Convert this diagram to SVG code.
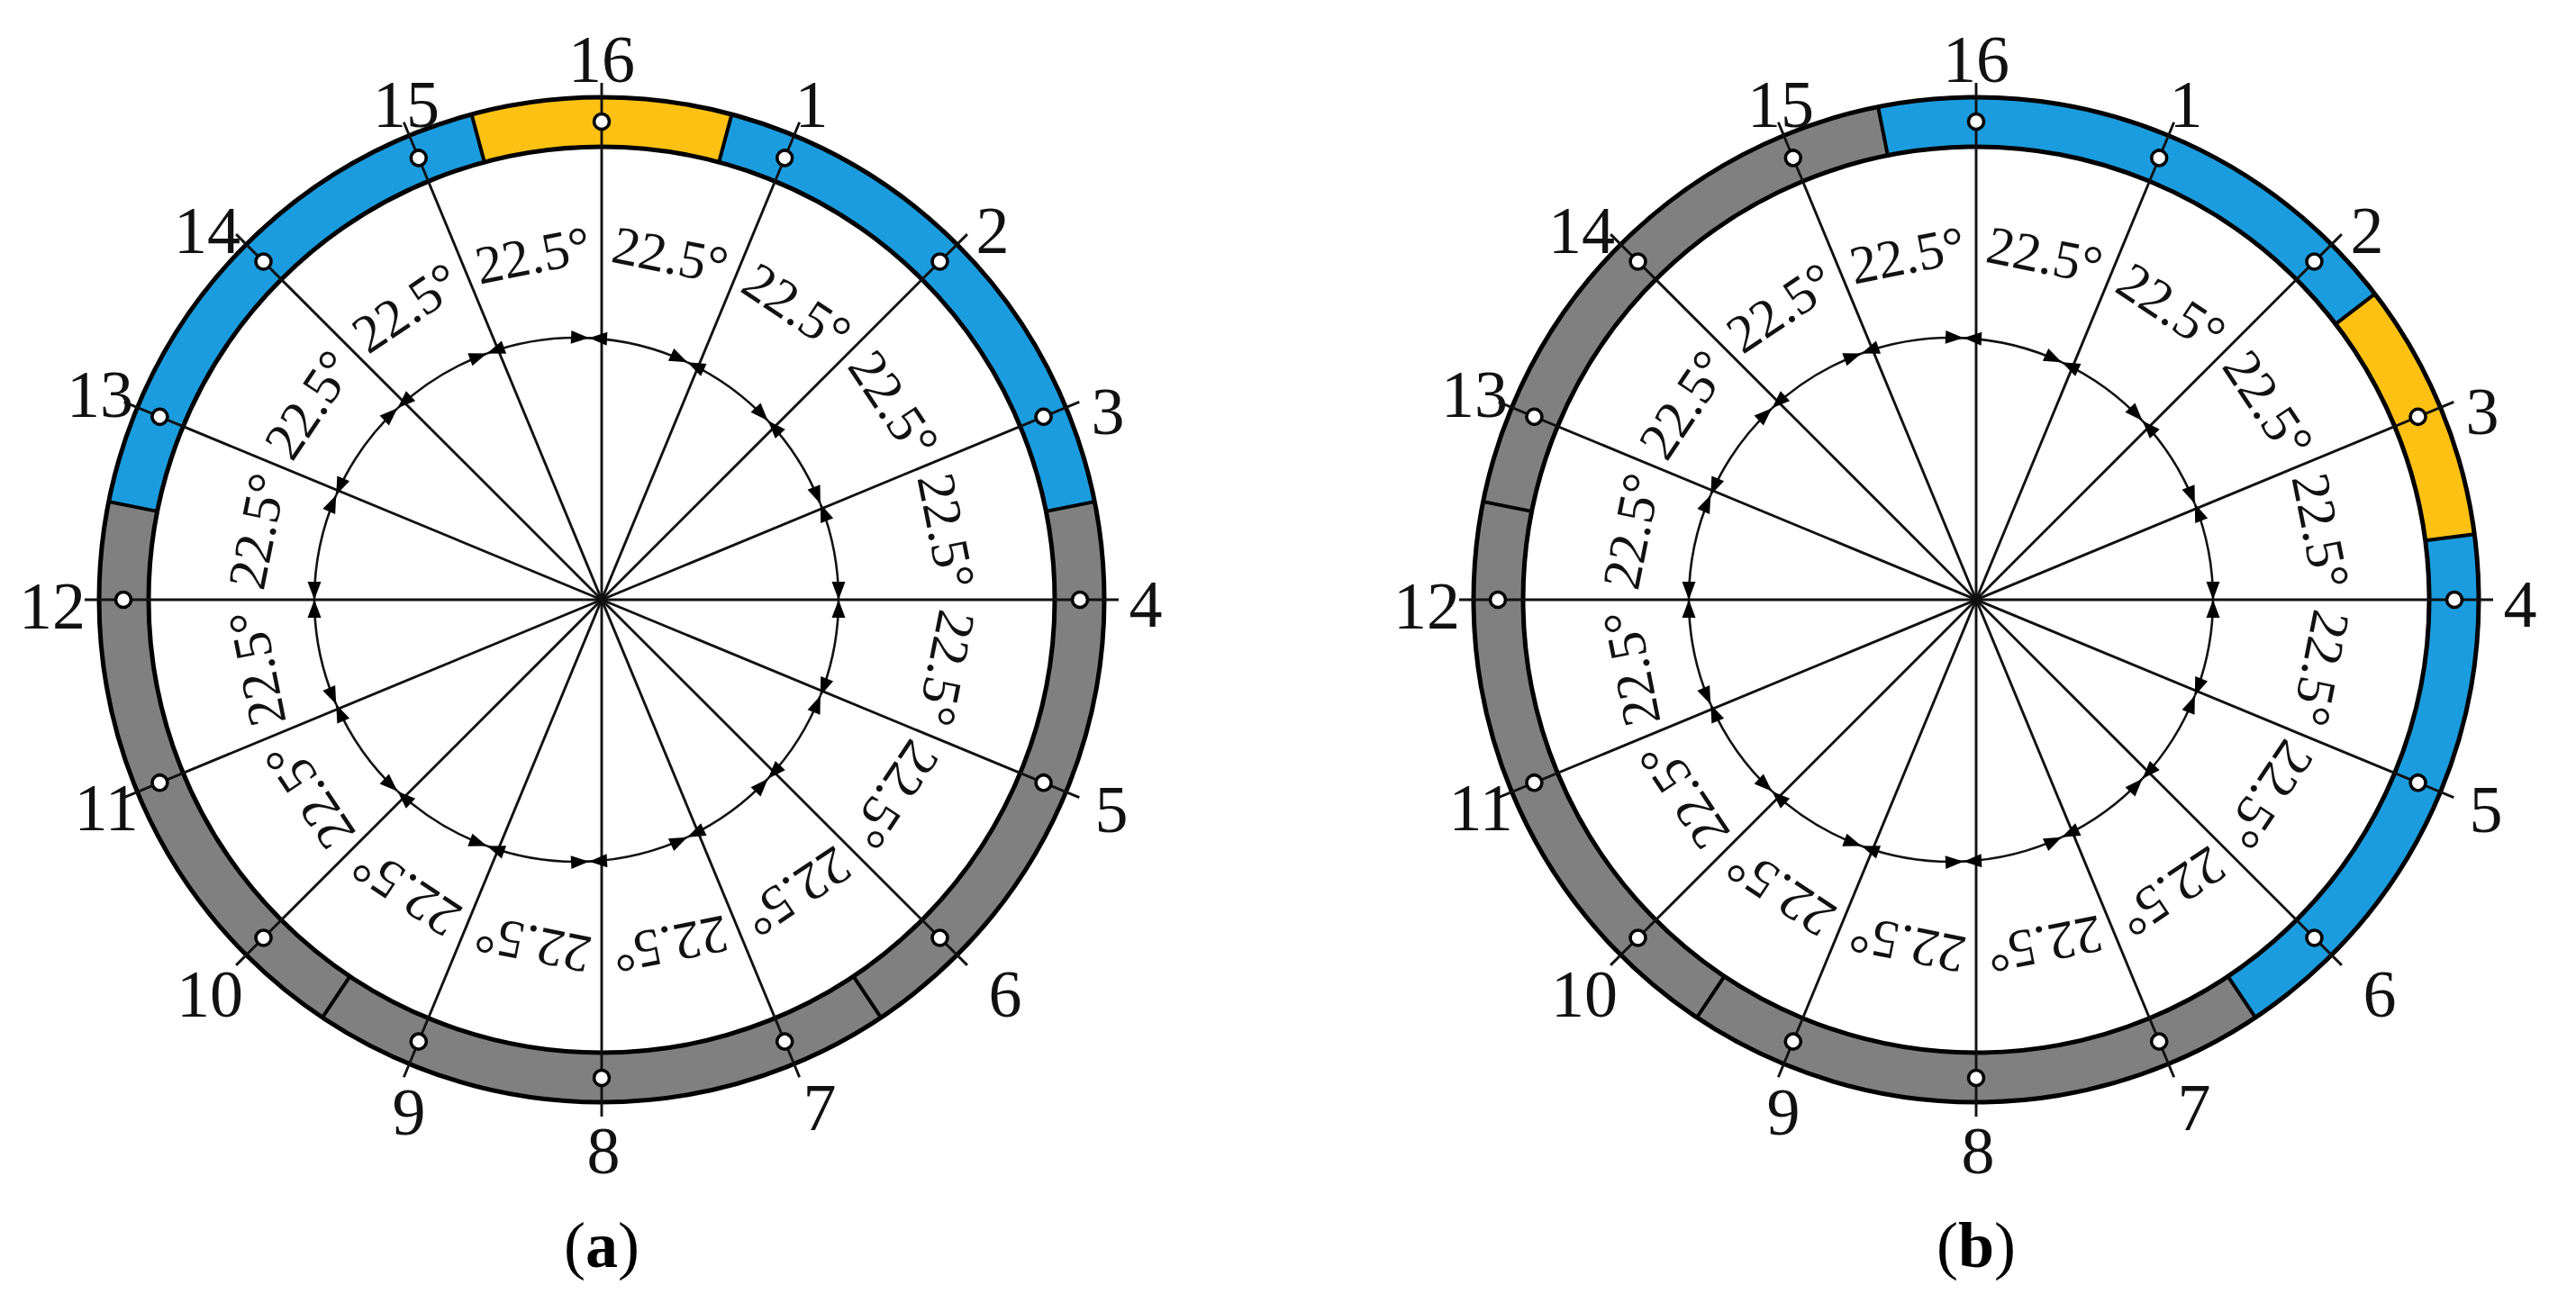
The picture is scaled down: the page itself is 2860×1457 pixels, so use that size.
<svg xmlns="http://www.w3.org/2000/svg" xmlns:xlink="http://www.w3.org/1999/xlink" width="2860" height="1457" viewBox="0 0 2860 1457">
<style>
.bg{fill:#fff}
.gray{fill:none;stroke:#808080;stroke-width:55}
.blue{fill:none;stroke:#1B9CDE;stroke-width:55}
.yellow{fill:none;stroke:#FDC113;stroke-width:55}
.edge{fill:none;stroke:#000;stroke-width:5}
.sep{stroke:#000;stroke-width:4}
.rad{stroke:#111;stroke-width:2.9}
.hole{fill:#fff;stroke:#000;stroke-width:3.6}
.dim{fill:none;stroke:#111;stroke-width:2.6;marker-start:url(#arr);marker-end:url(#arr)}
.num{font-family:"Liberation Serif","Times New Roman",serif;font-size:74px;text-anchor:middle;fill:#111}
.ang{font-family:"Liberation Serif","Times New Roman",serif;font-size:60px;text-anchor:middle;fill:#111}
.cap{font-family:"Liberation Serif","Times New Roman",serif;font-size:72px;text-anchor:middle;fill:#000}
</style>
<defs>
<marker id="arr" viewBox="-22 -9 23 18" refX="0" refY="0" markerWidth="23" markerHeight="18" markerUnits="userSpaceOnUse" orient="auto-start-reverse">
<path d="M0,0 L-20,-7.5 L-20,7.5 Z" fill="#000"/>
</marker>
<g id="ringShape">
<circle class="gray" cx="0" cy="0" r="530.5"/>
<path class="blue" d="M-520.31,-103.49 A530.5,530.5 0 0 1 520.31,-103.49"/>
<path class="yellow" d="M-137.30,-512.42 A530.5,530.5 0 0 1 137.30,-512.42"/>
<circle class="edge" cx="0" cy="0" r="558"/>
<circle class="edge" cx="0" cy="0" r="503"/>
<line class="sep" x1="0" y1="-503" x2="0" y2="-558" transform="rotate(-78.75)"/>
<line class="sep" x1="0" y1="-503" x2="0" y2="-558" transform="rotate(78.75)"/>
<line class="sep" x1="0" y1="-503" x2="0" y2="-558" transform="rotate(-15)"/>
<line class="sep" x1="0" y1="-503" x2="0" y2="-558" transform="rotate(15)"/>
<line class="sep" x1="0" y1="-503" x2="0" y2="-558" transform="rotate(146.25)"/>
<line class="sep" x1="0" y1="-503" x2="0" y2="-558" transform="rotate(213.75)"/>
</g>
<g id="radials">
<line class="rad" x1="0" y1="-574" x2="0" y2="574"/>
<line class="rad" x1="0" y1="-574" x2="0" y2="574" transform="rotate(22.5)"/>
<line class="rad" x1="0" y1="-574" x2="0" y2="574" transform="rotate(45)"/>
<line class="rad" x1="0" y1="-574" x2="0" y2="574" transform="rotate(67.5)"/>
<line class="rad" x1="0" y1="-574" x2="0" y2="574" transform="rotate(90)"/>
<line class="rad" x1="0" y1="-574" x2="0" y2="574" transform="rotate(112.5)"/>
<line class="rad" x1="0" y1="-574" x2="0" y2="574" transform="rotate(135)"/>
<line class="rad" x1="0" y1="-574" x2="0" y2="574" transform="rotate(157.5)"/>
</g>
<g id="holes">
<circle class="hole" cx="0" cy="-531" r="8.5"/>
<circle class="hole" cx="0" cy="-531" r="8.5" transform="rotate(22.5)"/>
<circle class="hole" cx="0" cy="-531" r="8.5" transform="rotate(45)"/>
<circle class="hole" cx="0" cy="-531" r="8.5" transform="rotate(67.5)"/>
<circle class="hole" cx="0" cy="-531" r="8.5" transform="rotate(90)"/>
<circle class="hole" cx="0" cy="-531" r="8.5" transform="rotate(112.5)"/>
<circle class="hole" cx="0" cy="-531" r="8.5" transform="rotate(135)"/>
<circle class="hole" cx="0" cy="-531" r="8.5" transform="rotate(157.5)"/>
<circle class="hole" cx="0" cy="-531" r="8.5" transform="rotate(180)"/>
<circle class="hole" cx="0" cy="-531" r="8.5" transform="rotate(202.5)"/>
<circle class="hole" cx="0" cy="-531" r="8.5" transform="rotate(225)"/>
<circle class="hole" cx="0" cy="-531" r="8.5" transform="rotate(247.5)"/>
<circle class="hole" cx="0" cy="-531" r="8.5" transform="rotate(270)"/>
<circle class="hole" cx="0" cy="-531" r="8.5" transform="rotate(292.5)"/>
<circle class="hole" cx="0" cy="-531" r="8.5" transform="rotate(315)"/>
<circle class="hole" cx="0" cy="-531" r="8.5" transform="rotate(337.5)"/>
</g>
<g id="dims">
<path class="dim" d="M0,-290.66 A291,291 0 0 1 109.20,-263.63"/>
<path class="dim" d="M109.20,-263.63 A291,291 0 0 1 198.65,-198.65"/>
<path class="dim" d="M198.65,-198.65 A291,291 0 0 1 256.86,-106.39"/>
<path class="dim" d="M256.86,-106.39 A291,291 0 0 1 277,0"/>
<path class="dim" d="M277,0 A291,291 0 0 1 256.86,106.39"/>
<path class="dim" d="M256.86,106.39 A291,291 0 0 1 198.65,198.65"/>
<path class="dim" d="M198.65,198.65 A291,291 0 0 1 109.20,263.63"/>
<path class="dim" d="M109.20,263.63 A291,291 0 0 1 0,290.66"/>
<path class="dim" d="M0,290.66 A291,291 0 0 1 -113.30,273.53"/>
<path class="dim" d="M-113.30,273.53 A291,291 0 0 1 -212.65,212.65"/>
<path class="dim" d="M-212.65,212.65 A291,291 0 0 1 -280.75,116.29"/>
<path class="dim" d="M-280.75,116.29 A291,291 0 0 1 -305,0"/>
<path class="dim" d="M-305,0 A291,291 0 0 1 -280.75,-116.29"/>
<path class="dim" d="M-280.75,-116.29 A291,291 0 0 1 -212.65,-212.65"/>
<path class="dim" d="M-212.65,-212.65 A291,291 0 0 1 -113.30,-273.53"/>
<path class="dim" d="M-113.30,-273.53 A291,291 0 0 1 0,-290.66"/>
</g>
<g id="angles">
<text class="ang" x="0" y="-370" transform="rotate(11.25)">22.5°</text>
<text class="ang" x="0" y="-370" transform="rotate(33.75)">22.5°</text>
<text class="ang" x="0" y="-370" transform="rotate(56.25)">22.5°</text>
<text class="ang" x="0" y="-370" transform="rotate(78.75)">22.5°</text>
<text class="ang" x="0" y="-370" transform="rotate(101.25)">22.5°</text>
<text class="ang" x="0" y="-370" transform="rotate(123.75)">22.5°</text>
<text class="ang" x="0" y="-370" transform="rotate(146.25)">22.5°</text>
<text class="ang" x="0" y="-370" transform="rotate(168.75)">22.5°</text>
<text class="ang" x="0" y="-370" transform="rotate(191.25)">22.5°</text>
<text class="ang" x="0" y="-370" transform="rotate(213.75)">22.5°</text>
<text class="ang" x="0" y="-370" transform="rotate(236.25)">22.5°</text>
<text class="ang" x="0" y="-370" transform="rotate(258.75)">22.5°</text>
<text class="ang" x="0" y="-370" transform="rotate(281.25)">22.5°</text>
<text class="ang" x="0" y="-370" transform="rotate(303.75)">22.5°</text>
<text class="ang" x="0" y="-370" transform="rotate(326.25)">22.5°</text>
<text class="ang" x="0" y="-370" transform="rotate(348.75)">22.5°</text>
</g>
<g id="numbers">
<text class="num" x="0" y="-575">16</text>
<text class="num" x="233" y="-525">1</text>
<text class="num" x="434" y="-385">2</text>
<text class="num" x="562" y="-184">3</text>
<text class="num" x="604" y="30">4</text>
<text class="num" x="566" y="258">5</text>
<text class="num" x="448" y="463">6</text>
<text class="num" x="242" y="589">7</text>
<text class="num" x="2" y="637">8</text>
<text class="num" x="-214" y="594">9</text>
<text class="num" x="-435" y="463">10</text>
<text class="num" x="-550" y="256">11</text>
<text class="num" x="-610" y="32">12</text>
<text class="num" x="-557" y="-203">13</text>
<text class="num" x="-438" y="-385">14</text>
<text class="num" x="-217" y="-525">15</text>
</g>
</defs>
<rect class="bg" x="0" y="0" width="2860" height="1457"/>
<g id="panel-a" transform="translate(668,666)">
<g id="ring-a"><use href="#ringShape"/></g>
<g id="connectors-a"><use href="#radials"/><use href="#dims" transform="translate(-14,0)"/></g>
<g id="holes-a"><use href="#holes"/></g>
<g id="angle-labels-a"><use href="#angles"/></g>
<g id="position-labels-a"><use href="#numbers"/></g>
</g>
<g id="panel-b" transform="translate(2194,666)">
<g id="ring-b"><use href="#ringShape" transform="rotate(67.5)"/></g>
<g id="connectors-b"><use href="#radials"/><use href="#dims" transform="translate(-14,0)"/></g>
<g id="holes-b"><use href="#holes"/></g>
<g id="angle-labels-b"><use href="#angles"/></g>
<g id="position-labels-b"><use href="#numbers"/></g>
</g>
<g id="caption-a"><text class="cap" x="668" y="1407">(<tspan font-weight="bold">a</tspan>)</text></g>
<g id="caption-b"><text class="cap" x="2194" y="1407">(<tspan font-weight="bold">b</tspan>)</text></g>
</svg>
